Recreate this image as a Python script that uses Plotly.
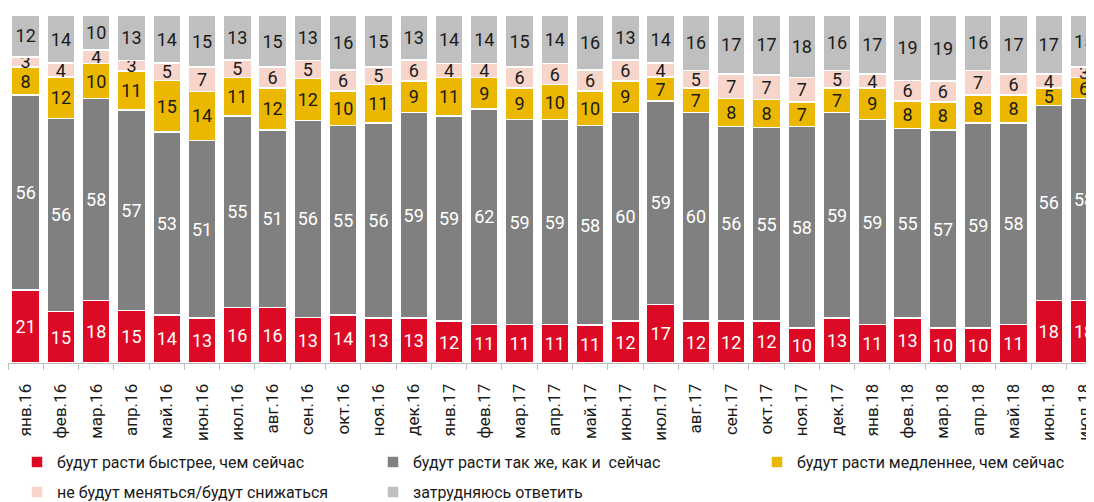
import plotly.graph_objects as go

# months (Russian short labels)
months = ["янв.16", "фев.16", "мар.16", "апр.16", "май.16", "июн.16", "июл.16", "авг.16",
          "сен.16", "окт.16", "ноя.16", "дек.16", "янв.17", "фев.17", "мар.17", "апр.17",
          "май.17", "июн.17", "июл.17", "авг.17", "сен.17", "окт.17", "ноя.17", "дек.17",
          "янв.18", "фев.18", "мар.18", "апр.18", "май.18", "июн.18", "июл.18"]

faster = [21, 15, 18, 15, 14, 13, 16, 16, 13, 14, 13, 13, 12, 11, 11, 11,
          11, 12, 17, 12, 12, 12, 10, 13, 11, 13, 10, 10, 11, 18, 18]
same = [56, 56, 58, 57, 53, 51, 55, 51, 56, 55, 56, 59, 59, 62, 59, 59,
        58, 60, 59, 60, 56, 55, 58, 59, 59, 55, 57, 59, 58, 56, 58]
slower = [8, 12, 10, 11, 15, 14, 11, 12, 12, 10, 11, 9, 11, 9, 9, 10,
          10, 9, 7, 7, 8, 8, 7, 7, 9, 8, 8, 8, 8, 5, 6]
no_change = [3, 4, 4, 3, 5, 7, 5, 6, 5, 6, 5, 6, 4, 4, 6, 6,
             6, 6, 4, 5, 7, 7, 7, 5, 4, 6, 6, 7, 6, 4, 3]
hard_to_say = [12, 14, 10, 13, 14, 15, 13, 15, 13, 16, 15, 13, 14, 14, 15, 14,
               16, 13, 14, 16, 17, 17, 18, 16, 17, 19, 19, 16, 17, 17, 15]

FONT = "Roboto, Liberation Sans, sans-serif"

# name, values, fill, label colour, legend id, legend x (px), legend y (fraction)
series = [
    ("будут расти быстрее, чем сейчас", faster, "#DC0A24", "white", "legend", 9, 0.081),
    ("будут расти так же, как и  сейчас", same, "#808080", "white", "legend2", 365, 0.081),
    ("будут расти медленнее, чем сейчас", slower, "#EBB700", "#1a1a1a", "legend3", 749, 0.081),
    ("не будут меняться/будут снижаться", no_change, "#F7D5CB", "#1a1a1a", "legend4", 9, 0.0202),
    ("затрудняюсь ответить", hard_to_say, "#BFBFBF", "#1a1a1a", "legend5", 365, 0.0202),
]

W, H = 1086, 494  # page body has an 8px margin in the browser

fig = go.Figure()

legend_layout = {}
for name, vals, color, tcolor, leg, lx, ly in series:
    fig.add_trace(go.Bar(
        x=months, y=vals, name=name,
        marker=dict(color=color, line=dict(color="white", width=1.5)),
        text=vals, textposition="inside", insidetextanchor="middle",
        textangle=0, constraintext="none",
        textfont=dict(family=FONT, size=18, color=tcolor),
        legend=leg,
    ))
    legend_layout[leg] = dict(
        x=lx / W, y=ly, xref="container", yref="container",
        xanchor="left", yanchor="middle", orientation="h",
        font=dict(family=FONT, size=16, color="#1a1a1a"),
        bgcolor="rgba(0,0,0,0)",
    )

fig.update_layout(
    width=W, height=H,
    barmode="stack", barnorm="percent", bargap=0.21,
    plot_bgcolor="white", paper_bgcolor="white",
    margin=dict(l=0, r=0, t=7, b=139),
    showlegend=True,
    **legend_layout,
)

fig.update_xaxes(
    range=[-0.5, 30.17],
    tickangle=-90,
    tickfont=dict(family=FONT, size=17, color="#1a1a1a"),
    ticklabelstandoff=13,
    showline=True, linecolor="#BFBFBF", linewidth=1,
    ticks="outside", tickson="boundaries", ticklen=6, tickcolor="#BFBFBF",
    showgrid=False,
)
fig.update_yaxes(range=[0, 100], visible=False, showgrid=False)

fig.write_html("out.html")
